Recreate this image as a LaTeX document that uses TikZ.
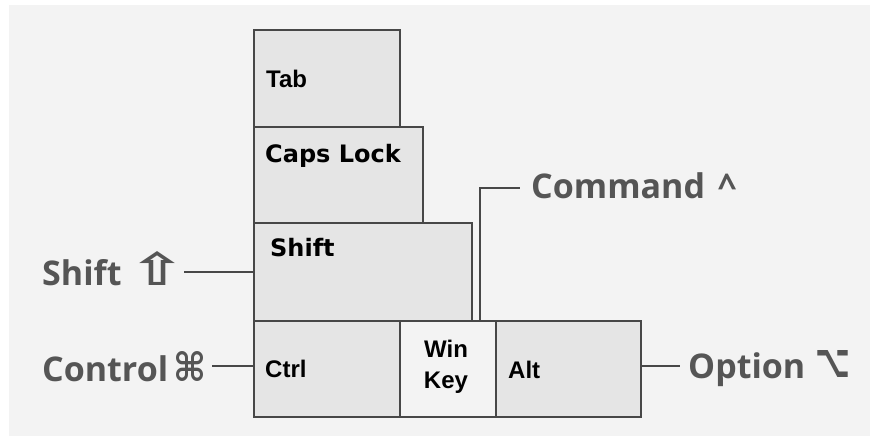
\documentclass[tikz,border=0pt]{standalone}
\usepackage{fontspec}
\usepackage{graphicx}
\setmainfont{Liberation Sans}
\newfontfamily\dvfont{DejaVu Sans}
\newfontfamily\osfont{Open Sans}
\newcommand\mysym[3]{\resizebox{#1}{#2}{\dvfont\bfseries\char"#3}}
\newcommand\myarrow{\makebox[35pt]{\resizebox{56pt}{34pt}{\dvfont\char"21E7}}}
\definecolor{bgc}{HTML}{F3F3F3}
\definecolor{keyc}{HTML}{E5E5E5}
\definecolor{winc}{HTML}{F3F3F3}
\definecolor{linec}{HTML}{474747}
\definecolor{labc}{HTML}{555555}
\tikzset{
  keybox/.style={draw=linec, line width=1.8pt, fill=keyc, anchor=north west, inner sep=0pt},
  keytext/.style={anchor=west, inner sep=0pt, font=\fontsize{24}{28}\selectfont\bfseries, text=black},
  keytextdv/.style={anchor=west, inner sep=0pt, font=\dvfont\fontsize{24}{28}\selectfont\bfseries, text=black},
  biglabel/.style={anchor=base west, inner sep=0pt, font=\osfont\fontsize{34}{38}\selectfont\bfseries, text=labc},
  conn/.style={draw=linec, line width=1.8pt}
}
\begin{document}
\begin{tikzpicture}[x=1pt,y=-1pt]
\useasboundingbox (0,0) rectangle (870,436);
\fill[white] (0,0) rectangle (870,436);
\fill[bgc] (9,5) rectangle (870,436);
% keys
\node[keybox, minimum width=146pt, minimum height=97pt] (tab) at (253,29) {};
\node[keybox, minimum width=169pt, minimum height=96pt] (caps) at (253,126) {};
\node[keybox, minimum width=218pt, minimum height=98pt] (shiftkey) at (253,222) {};
\node[keybox, minimum width=146pt, minimum height=96pt] (ctrl) at (253,320) {};
\node[keybox, fill=winc, minimum width=96pt, minimum height=96pt] (win) at (399,320) {};
\node[keybox, minimum width=145pt, minimum height=96pt] (alt) at (495,320) {};
% key labels
\node[keytext] (tabt) at (266,79) {Tab};
\node[keytextdv] (capst) at (265,156) {Caps Lock};
\node[keytextdv] (shiftt) at (270,248) {Shift};
\node[keytext] (ctrlt) at (265,369) {Ctrl};
\node[keytext, align=center, anchor=center, font=\fontsize{24}{31}\selectfont\bfseries] (wint) at (446,367) {Win\\Key};
\node[keytext] (altt) at (508,370) {Alt};
% outside labels
\node[biglabel] (shiftlbl) at (42,285) {Shift\hspace{18pt}\myarrow};
\node[biglabel] (ctrllbl) at (42,381) {Control\hspace{5pt}\mysym{33pt}{30pt}{2318}};
\node[biglabel] (cmdlbl) at (531,198) {Command\hspace{13pt}\^{}};
\node[biglabel] (optlbl) at (688,378) {Option\hspace{10pt}\raisebox{1pt}{\mysym{35pt}{27pt}{2325}}};
% connectors
\coordinate (cmdfoot) at (480,320);
\coordinate (cmdend) at (520,188);
\coordinate (shiftstart) at (184,272);
\coordinate (ctrlstart) at (212,366);
\coordinate (optend) at (680,366);
\draw[conn] (shiftstart) -- (shiftstart -| shiftkey.west);
\draw[conn] (ctrlstart) -- (ctrlstart -| ctrl.west);
\draw[conn] (optend -| alt.east) -- (optend);
\draw[conn] (cmdfoot) |- (cmdend);
\end{tikzpicture}
\end{document}
